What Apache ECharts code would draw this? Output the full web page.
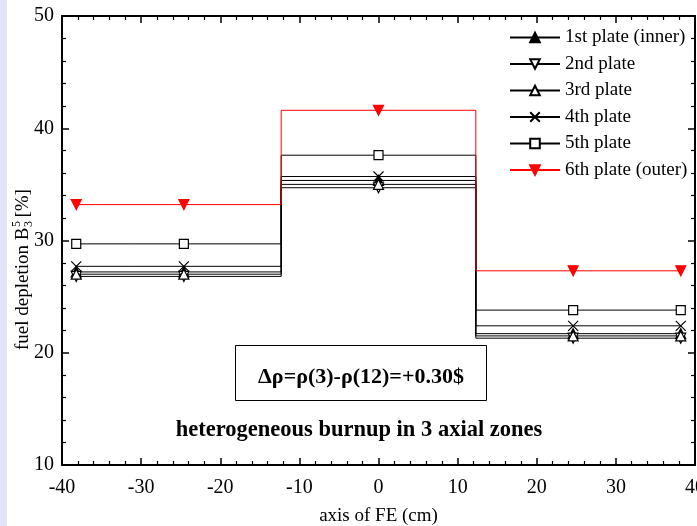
<!DOCTYPE html>
<html>
<head>
<meta charset="utf-8">
<script src="https://cdn.jsdelivr.net/npm/echarts@6/dist/echarts.min.js"></script>
<style>
html,body{margin:0;padding:0;background:#fff;}
#c{width:697px;height:526px;}
</style>
</head>
<body>
<div id="c"></div>
<script>
// ---- data ----
var xPositions = [-38.2, -24.6, 0, 24.6, 38.2];
var seriesNames = ['1st plate (inner)', '2nd plate', '3rd plate', '4th plate', '5th plate', '6th plate (outer)'];
var plate1 = [27.2, 27.2, 35.35, 21.7, 21.7];
var plate2 = [26.8, 26.8, 34.7, 21.3, 21.3];
var plate3 = [27.0, 27.0, 35.0, 21.5, 21.5];
var plate4 = [27.7, 27.7, 35.7, 22.4, 22.4];
var plate5 = [29.7, 29.7, 37.6, 23.8, 23.8];
var plate6 = [33.2, 33.2, 41.6, 27.3, 27.3];
var xTicks = [-40, -30, -20, -10, 0, 10, 20, 30, 40];
var yTicks = [10, 20, 30, 40, 50];

var FONT = '"Liberation Serif", "Times New Roman", serif';
function pairs(vals) { return xPositions.map(function (x, i) { return [x, vals[i]]; }); }

var styles = [
  {symbol: 'triangle', rotate: 0, fill: '#000', border: '#000', line: '#000'},
  {symbol: 'triangle', rotate: 180, fill: '#fff', border: '#000', line: '#000'},
  {symbol: 'triangle', rotate: 0, fill: '#fff', border: '#000', line: '#000'},
  {symbol: 'path://M0,0L10,10M10,0L0,10', rotate: 0, fill: 'none', border: '#000', line: '#000'},
  {symbol: 'rect', rotate: 0, fill: '#fff', border: '#000', line: '#000'},
  {symbol: 'triangle', rotate: 180, fill: '#ff0000', border: '#ff0000', line: '#ff0000'}
];
var allVals = [plate1, plate2, plate3, plate4, plate5, plate6];

var series = allVals.map(function (vals, i) {
  var s = styles[i];
  return {
    name: seriesNames[i],
    type: 'line',
    step: 'middle',
    data: pairs(vals),
    symbol: s.symbol,
    symbolRotate: s.rotate,
    symbolSize: i === 4 ? 9 : 10,
    showAllSymbol: true,
    lineStyle: {color: s.line, width: 1},
    itemStyle: {color: s.fill, borderColor: s.border, borderWidth: 1.2},
    emphasis: {disabled: true},
    animation: false
  };
});

// measure y-axis title
var cv = document.createElement('canvas').getContext('2d');
cv.font = '19px ' + FONT;
var mainTitle = 'fuel depletion B';
var mainW = cv.measureText(mainTitle).width;
cv.font = '12px ' + FONT;
var supW = cv.measureText('5').width;

var chart = echarts.init(document.getElementById('c'), null, {renderer: 'canvas'});
var axisCommon = {
  type: 'value',
  min: -40, max: 40, interval: 10,
  axisLine: {show: true, onZero: false, lineStyle: {color: '#000', width: 2}},
  axisTick: {show: true, inside: true, length: 7, lineStyle: {color: '#000', width: 1.5}},
  minorTick: {show: true, splitNumber: 5, length: 4, lineStyle: {color: '#000', width: 1.2}},
  splitLine: {show: false}
};
function xAxis(pos, showLabel) {
  return Object.assign({}, axisCommon, {
    position: pos,
    axisLabel: {show: showLabel, color: '#000', fontFamily: FONT, fontSize: 20, margin: 13,
      formatter: function (v) { return xTicks.indexOf(v) >= 0 ? String(v) : ''; }},
    name: pos === 'bottom' ? 'axis of FE (cm)' : '',
    nameLocation: 'middle', nameGap: 42,
    nameTextStyle: {color: '#000', fontFamily: FONT, fontSize: 19}
  });
}
function yAxis(pos, showLabel) {
  return Object.assign({}, axisCommon, {
    position: pos, min: 10, max: 50, interval: 10,
    axisLabel: {show: showLabel, color: '#000', fontFamily: FONT, fontSize: 20, margin: 8,
      formatter: function (v) { return yTicks.indexOf(v) >= 0 ? String(v) : ''; }}
  });
}

var titleStartY = 350;
chart.setOption({
  animation: false,
  backgroundColor: '#fff',
  grid: {left: 62, right: 2, top: 16, bottom: 61, containLabel: false, outerBoundsMode: 'none'},
  xAxis: [xAxis('bottom', true), xAxis('top', false)],
  yAxis: [yAxis('left', true), yAxis('right', false)],
  legend: {
    orient: 'vertical', left: 504, top: 23,
    itemWidth: 50, itemHeight: 12, itemGap: 7.5,
    textStyle: {color: '#000', fontFamily: FONT, fontSize: 19},
    data: seriesNames,
    selectedMode: false
  },
  series: series,
  graphic: [
    {type: 'rect', left: 0, top: 0, shape: {width: 7, height: 526}, style: {fill: '#e4e4f8'}, silent: true},
    {type: 'rect', shape: {x: 235.5, y: 345.5, width: 251, height: 55}, style: {fill: 'none', stroke: '#000', lineWidth: 1}, silent: true},
    {type: 'text', x: 361, y: 377, style: {text: 'Δρ=ρ(3)-ρ(12)=+0.30$', font: 'bold 22px ' + FONT, fill: '#000', align: 'center', verticalAlign: 'middle'}, silent: true},
    {type: 'text', x: 359, y: 430, style: {text: 'heterogeneous burnup in 3 axial zones', font: 'bold 22.5px ' + FONT, fill: '#000', align: 'center', verticalAlign: 'middle'}, silent: true},
    {type: 'group', x: 23, y: titleStartY, rotation: Math.PI / 2, silent: true, children: [
      {type: 'text', x: 0, y: 0, style: {text: mainTitle, font: '19px ' + FONT, fill: '#000', align: 'left', verticalAlign: 'middle'}},
      {type: 'text', x: mainW + 0.5, y: -6, style: {text: '5', font: '12px ' + FONT, fill: '#000', align: 'left', verticalAlign: 'middle'}},
      {type: 'text', x: mainW + 0.5, y: 6, style: {text: '3', font: '12px ' + FONT, fill: '#000', align: 'left', verticalAlign: 'middle'}},
      {type: 'text', x: mainW + supW + 4, y: 0, style: {text: '[%]', font: '19px ' + FONT, fill: '#000', align: 'left', verticalAlign: 'middle'}}
    ]}
  ]
});
</script>
</body>
</html>
